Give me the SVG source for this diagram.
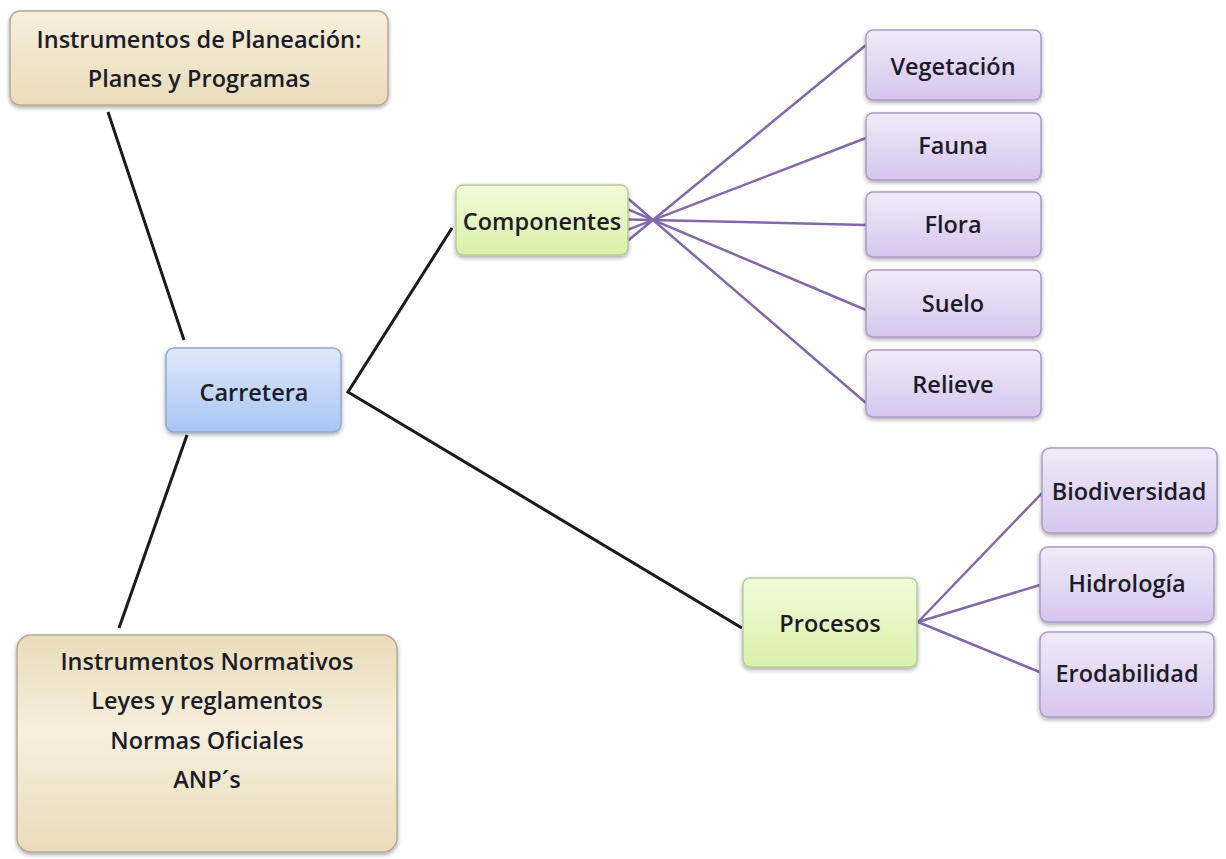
<svg xmlns="http://www.w3.org/2000/svg" width="1226" height="859" viewBox="0 0 1226 859">
<defs>
<linearGradient id="gTan" x1="0" y1="0" x2="0" y2="1">
<stop offset="0" stop-color="#f7efdb"/><stop offset="1" stop-color="#eadcba"/>
</linearGradient>
<linearGradient id="gTan2" x1="0" y1="0" x2="0" y2="1">
<stop offset="0" stop-color="#e9dcba"/><stop offset="0.45" stop-color="#f6efdc"/><stop offset="1" stop-color="#eadcba"/>
</linearGradient>
<linearGradient id="gBlue" x1="0" y1="0" x2="0" y2="1">
<stop offset="0" stop-color="#dfe8fb"/><stop offset="1" stop-color="#a8c6f4"/>
</linearGradient>
<linearGradient id="gGreen" x1="0" y1="0" x2="0" y2="1">
<stop offset="0" stop-color="#f3fbd8"/><stop offset="1" stop-color="#d9f0aa"/>
</linearGradient>
<linearGradient id="gPurple" x1="0" y1="0" x2="0" y2="1">
<stop offset="0" stop-color="#f1ebf8"/><stop offset="1" stop-color="#d5c6ee"/>
</linearGradient>
<filter id="sh" x="-10%" y="-10%" width="120%" height="130%">
<feDropShadow dx="0" dy="2" stdDeviation="2" flood-color="#000" flood-opacity="0.35"/>
</filter>
</defs>
<style>
.box{filter:url(#sh);stroke-width:1.5}
.tan{fill:url(#gTan);stroke:#b4aa98}
.tan2{fill:url(#gTan2);stroke:#b4aa98}
.blue{fill:url(#gBlue);stroke:#93aacd}
.green{fill:url(#gGreen);stroke:#b9cc98}
.purple{fill:url(#gPurple);stroke:#aa9cc4}
text{font-family:"Open Sans","Liberation Sans",sans-serif;font-weight:600;font-size:23.5px;fill:#1c1c28;text-anchor:middle}
.blk{stroke:#1a1a1a;stroke-width:3;fill:none}
.pur{stroke:#8069a8;stroke-width:2.5;fill:none}
</style>
<rect width="1226" height="859" fill="#ffffff"/>
<g id="connectors">
<line class="blk" x1="108" y1="112" x2="184" y2="340"/>
<line class="blk" x1="187" y1="435" x2="119" y2="628"/>
<polyline class="blk" points="452,228 348,392 742,628"/>
<line class="pur" x1="628" y1="240.5" x2="866" y2="45"/>
<line class="pur" x1="628" y1="229.6" x2="866" y2="138"/>
<line class="pur" x1="628" y1="219.4" x2="866" y2="225"/>
<line class="pur" x1="628" y1="209.4" x2="866" y2="310"/>
<line class="pur" x1="628" y1="198.5" x2="866" y2="403"/>
<line class="pur" x1="918" y1="622" x2="1043" y2="492"/>
<line class="pur" x1="918" y1="622" x2="1040" y2="585"/>
<line class="pur" x1="918" y1="622" x2="1042" y2="673"/>
</g>
<g id="planeacion">
<rect class="box tan" x="10" y="11" width="378" height="94" rx="10"/>
<text x="199" y="48">Instrumentos de Planeación:</text>
<text x="199" y="87">Planes y Programas</text>
</g>
<g id="carretera">
<rect class="box blue" x="166" y="348" width="175" height="84" rx="8"/>
<text x="254" y="401">Carretera</text>
</g>
<g id="normativos">
<rect class="box tan2" x="17" y="635" width="380" height="217" rx="14"/>
<text x="207" y="670">Instrumentos Normativos</text>
<text x="207" y="709">Leyes y reglamentos</text>
<text x="207" y="749">Normas Oficiales</text>
<text x="207" y="788">ANP´s</text>
</g>
<g id="componentes">
<rect class="box green" x="456" y="185" width="172" height="70" rx="7"/>
<text x="542" y="230">Componentes</text>
</g>
<g id="procesos">
<rect class="box green" x="743" y="578" width="174" height="89" rx="7"/>
<text x="830" y="632">Procesos</text>
</g>
<g id="vegetacion">
<rect class="box purple" x="866" y="30" width="175" height="70" rx="7"/>
<text x="953" y="75">Vegetación</text>
</g>
<g id="fauna">
<rect class="box purple" x="866" y="113" width="175" height="67" rx="7"/>
<text x="953" y="154">Fauna</text>
</g>
<g id="flora">
<rect class="box purple" x="866" y="192" width="175" height="65" rx="7"/>
<text x="953" y="233">Flora</text>
</g>
<g id="suelo">
<rect class="box purple" x="866" y="270" width="175" height="67" rx="7"/>
<text x="953" y="312">Suelo</text>
</g>
<g id="relieve">
<rect class="box purple" x="866" y="350" width="175" height="67" rx="7"/>
<text x="953" y="393">Relieve</text>
</g>
<g id="biodiversidad">
<rect class="box purple" x="1042" y="448" width="175" height="85" rx="8"/>
<text x="1129" y="500">Biodiversidad</text>
</g>
<g id="hidrologia">
<rect class="box purple" x="1040" y="547" width="174" height="75" rx="8"/>
<text x="1127" y="592">Hidrología</text>
</g>
<g id="erodabilidad">
<rect class="box purple" x="1040" y="632" width="174" height="85" rx="8"/>
<text x="1127" y="682">Erodabilidad</text>
</g>
</svg>
